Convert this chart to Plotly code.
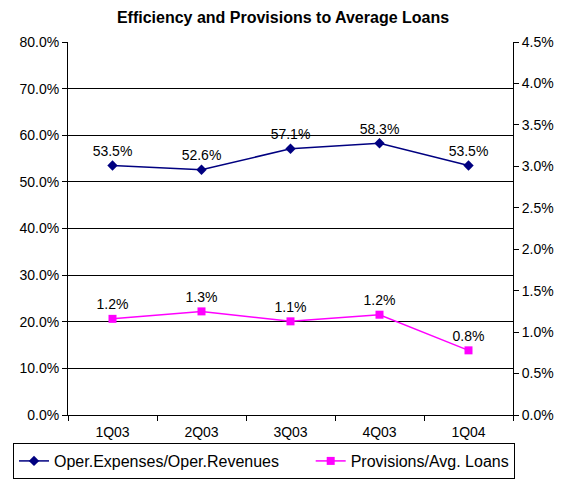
import plotly.graph_objects as go

quarters = ["1Q03", "2Q03", "3Q03", "4Q03", "1Q04"]
efficiency = [53.5, 52.6, 57.1, 58.3, 53.5]
efficiency_labels = ["53.5%", "52.6%", "57.1%", "58.3%", "53.5%"]
provisions = [1.16, 1.25, 1.13, 1.21, 0.78]
provisions_labels = ["1.2%", "1.3%", "1.1%", "1.2%", "0.8%"]

left_ticks = [0, 10, 20, 30, 40, 50, 60, 70, 80]
right_ticks = [0, 0.5, 1.0, 1.5, 2.0, 2.5, 3.0, 3.5, 4.0, 4.5]

font = "Liberation Sans, Arial, sans-serif"

fig = go.Figure()
fig.add_trace(go.Scatter(
    x=quarters, y=efficiency, name="Oper.Expenses/Oper.Revenues" + "&nbsp;" * 6,
    mode="lines+markers+text", text=efficiency_labels, textposition="top center",
    textfont=dict(size=14, color="#000000"),
    line=dict(color="#000080", width=1.5),
    marker=dict(symbol="diamond", size=8, color="#000080"),
))
fig.add_trace(go.Scatter(
    x=quarters, y=provisions, name="Provisions/Avg. Loans", yaxis="y2",
    mode="lines+markers+text", text=provisions_labels, textposition="top center",
    textfont=dict(size=14, color="#000000"),
    line=dict(color="#FF00FF", width=1.5),
    marker=dict(symbol="square", size=8, color="#FF00FF"),
))

fig.update_layout(
    width=566, height=480,
    margin=dict(l=68, r=53, t=42, b=65, autoexpand=False),
    paper_bgcolor="white", plot_bgcolor="white",
    font=dict(family=font, size=14, color="#000000"),
    title=dict(text="<b>Efficiency and Provisions to Average Loans</b>",
               x=0.5, xanchor="center", y=0.964, yanchor="middle",
               font=dict(size=16)),
    xaxis=dict(type="category", tickson="boundaries", ticks="outside", ticklen=5,
               tickcolor="#000000", showline=True, linecolor="#000000", linewidth=1,
               showgrid=False, zeroline=False, range=[-0.5, 4.5],
               ticklabelstandoff=4),
    yaxis=dict(range=[0, 80], tickvals=left_ticks,
               ticktext=[f"{v:.1f}%" for v in left_ticks],
               ticks="outside", ticklen=5, tickcolor="#000000",
               showline=True, linecolor="#000000", linewidth=1,
               showgrid=True, gridcolor="#000000", gridwidth=1, zeroline=False),
    yaxis2=dict(range=[0, 4.5], tickvals=right_ticks,
                ticktext=[f"{v:.1f}%" for v in right_ticks],
                overlaying="y", side="right",
                ticks="outside", ticklen=5, tickcolor="#000000",
                showline=True, linecolor="#000000", linewidth=1,
                showgrid=False, zeroline=False),
    yaxis3=dict(range=[0, 4.5], tickvals=right_ticks, showticklabels=False,
                overlaying="y", side="right", anchor="x",
                ticks="inside", ticklen=5, tickcolor="#000000",
                showline=False, showgrid=False, zeroline=False),
    showlegend=True,
    legend=dict(orientation="h", x=-0.1236, xanchor="left", y=-0.1716, yanchor="bottom",
                bordercolor="#000000", borderwidth=1, bgcolor="white",
                font=dict(size=16)),
)

# drop the default body margin so the figure sits at the page corner
fig.write_html("out.html", config={"displayModeBar": False},
               post_script="document.body.style.margin='0';")
